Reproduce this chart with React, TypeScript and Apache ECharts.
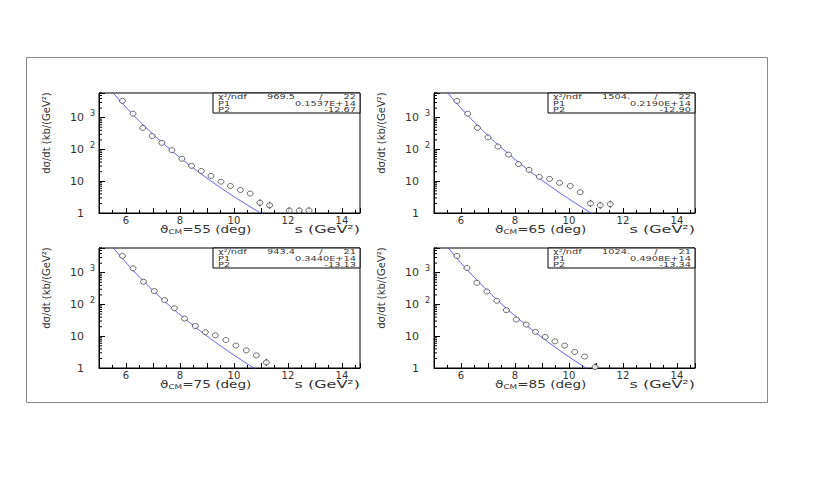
import React, { useEffect, useRef } from 'react';
import * as echarts from 'echarts';

// ---------- data ----------
const angles = [55, 65, 75, 85];

const s55 = [5.87, 6.26, 6.62, 6.97, 7.33, 7.70, 8.07, 8.43, 8.79, 9.15, 9.52, 9.87, 10.24, 10.60, 10.96, 11.32, 12.05, 12.42, 12.78];
const y55 = [3380, 1340, 480, 265, 162, 95, 51, 30.5, 21, 14.7, 9.7, 7.1, 5.3, 4.1, 2.1, 1.75, 1.2, 1.2, 1.2];
const s65 = [5.85, 6.25, 6.61, 7.00, 7.37, 7.76, 8.13, 8.52, 8.90, 9.28, 9.65, 10.05, 10.42, 10.80, 11.16, 11.53];
const y65 = [3380, 1340, 480, 240, 124, 69, 34.5, 22.8, 13.7, 11.8, 8.9, 7.1, 4.5, 2.0, 1.75, 1.9];
const s75 = [5.87, 6.26, 6.65, 7.05, 7.43, 7.79, 8.17, 8.57, 8.94, 9.31, 9.70, 10.07, 10.46, 10.83, 11.20];
const y75 = [3380, 1370, 520, 265, 137, 76, 36, 21, 13.4, 10.7, 7.6, 5.1, 3.6, 2.5, 1.5];
const s85 = [5.85, 6.22, 6.59, 6.96, 7.33, 7.68, 8.05, 8.42, 8.76, 9.12, 9.48, 9.84, 10.21, 10.58, 10.97];
const y85 = [3380, 1410, 480, 257, 131, 66, 33.6, 23.3, 13.7, 9.5, 6.9, 5.1, 3.2, 2.3, 1.07];

// error bars [s, low, high] where visible
const err55 = [[10.96, 1.6, 2.7], [11.32, 1.35, 2.25], [12.05, 1.0, 1.5], [12.42, 1.0, 1.5], [12.78, 1.0, 1.5]];
const err65 = [[10.80, 1.55, 2.6], [11.16, 1.35, 2.25], [11.53, 1.45, 2.45]];
const err75 = [[11.20, 1.15, 1.95]];
const err85 = [[10.97, 1.0, 1.4]];

// fit statistics boxes
const chi2Text = ['969.5', '1504.', '943.4', '1024.'];
const ndfText = ['22', '22', '21', '21'];
const p1Text = ['0.1537E+14', '0.2190E+14', '0.3440E+14', '0.4908E+14'];
const p2Text = ['-12.67', '-12.90', '-13.13', '-13.34'];

// axes
const xLabelTicks = [6, 8, 10, 12, 14];
const yDecades = [1, 10, 100, 1000];
const yBase = ['1', '10', '10', '10'];
const yExp = ['', '', '2', '3'];
const yMinorMult = [2, 3, 4, 5, 6, 7, 8, 9];
const X_MIN = 5;
const X_MAX = 14.67;
const Y_MIN = 1;
const Y_MAX = 6000;

const sList = [s55, s65, s75, s85];
const yList = [y55, y65, y75, y85];
const errList = [err55, err65, err75, err85];

// ---------- layout ----------
const GW = 261;
const GH = 120;
const gridPos = [
  { left: 99, top: 93 },
  { left: 434, top: 93 },
  { left: 99, top: 248 },
  { left: 434, top: 248 },
];
const FONT = 'DejaVu Sans';
const TXT = '#333';

export default function App() {
  const ref = useRef<HTMLDivElement>(null);

  useEffect(() => {
    if (!ref.current) return;
    const chart = echarts.init(ref.current, undefined, { renderer: 'svg' });

    const minorVals: number[] = [];
    yDecades.forEach((d) => yMinorMult.forEach((m) => { if (m * d <= Y_MAX) minorVals.push(m * d); }));

    const grid: any[] = [];
    const xAxis: any[] = [];
    const yAxis: any[] = [];
    const series: any[] = [];
    const graphic: any[] = [];

    graphic.push({
      type: 'rect', z: 0, silent: true,
      shape: { x: 26.5, y: 57.5, width: 741, height: 345 },
      style: { fill: 'none', stroke: '#888', lineWidth: 1 },
    });

    gridPos.forEach((g, i) => {
      grid.push({ left: g.left, top: g.top, width: GW, height: GH, show: true, borderColor: '#000', borderWidth: 1, backgroundColor: 'transparent' });
      xAxis.push({
        type: 'value', gridIndex: i, min: X_MIN, max: X_MAX, interval: 1,
        axisLine: { show: true, onZero: false, lineStyle: { color: '#000', width: 1 } },
        axisTick: { show: true, inside: true, length: 5, lineStyle: { color: '#000' } },
        minorTick: { show: true, splitNumber: 2, length: 3, lineStyle: { color: '#000' } },
        splitLine: { show: false },
        axisLabel: {
          show: true, margin: 2, color: TXT, fontFamily: FONT, fontSize: 10,
          formatter: (v: number) => (xLabelTicks.some((t) => Math.abs(t - v) < 1e-6) ? String(Math.round(v)) : ''),
        },
      });
      yAxis.push({
        type: 'log', logBase: 10, gridIndex: i, min: Y_MIN, max: Y_MAX,
        axisLine: { show: true, lineStyle: { color: '#000', width: 1 } },
        axisTick: { show: true, inside: true, length: 6, lineStyle: { color: '#000' } },
        splitLine: { show: false },
        axisLabel: {
          show: true, margin: 4, color: TXT, fontFamily: FONT, fontSize: 11,
          formatter: (v: number) => {
            const idx = yDecades.findIndex((d) => Math.abs(Math.log10(v) - Math.log10(d)) < 1e-6);
            if (idx < 0) return '';
            return `{b|${yBase[idx]}}{s|${yExp[idx]}}`;
          },
          rich: {
            b: { fontSize: 11, fontFamily: FONT, color: TXT },
            s: { fontSize: 8, fontFamily: FONT, color: TXT, width: 10, padding: [0, 0, 8, 1] },
          },
        },
      });

      const p1 = parseFloat(p1Text[i]);
      const p2 = parseFloat(p2Text[i]);
      const fit: number[][] = [];
      for (let k = 0; k <= 400; k++) {
        const s = X_MIN + (k * (X_MAX - X_MIN)) / 400;
        fit.push([s, p1 * Math.pow(s, p2)]);
      }
      series.push({
        type: 'line', xAxisIndex: i, yAxisIndex: i, data: fit, showSymbol: false, symbol: 'none',
        clip: true, lineStyle: { color: '#4848f0', width: 1 }, silent: true, z: 3,
      });
      series.push({
        type: 'custom', xAxisIndex: i, yAxisIndex: i, data: errList[i], encode: { x: 0, y: [1, 2] }, z: 4, silent: true,
        renderItem: (_p: any, api: any) => {
          const lo = api.coord([api.value(0), api.value(1)]);
          const hi = api.coord([api.value(0), api.value(2)]);
          return { type: 'line', shape: { x1: lo[0], y1: lo[1], x2: hi[0], y2: hi[1] }, style: { stroke: '#333', lineWidth: 1 } };
        },
      });
      series.push({
        type: 'scatter', xAxisIndex: i, yAxisIndex: i,
        data: sList[i].map((s, k) => [s, yList[i][k]]),
        symbol: 'circle', symbolSize: [6, 5], z: 5, silent: true,
        itemStyle: { color: '#fff', borderColor: '#333', borderWidth: 0.9 },
      });
      series.push({
        type: 'custom', xAxisIndex: i, yAxisIndex: i, data: minorVals.map((v) => [X_MIN, v]), encode: { x: 0, y: 1 }, silent: true, z: 6,
        renderItem: (_p: any, api: any) => {
          const pt = api.coord([api.value(0), api.value(1)]);
          return { type: 'line', shape: { x1: pt[0], y1: pt[1], x2: pt[0] + 3, y2: pt[1] }, style: { stroke: '#000', lineWidth: 1 } };
        },
      });

      // axis titles
      graphic.push({
        type: 'text', x: g.left - 53, y: g.top + 40, rotation: Math.PI / 2, silent: true,
        style: { text: 'dσ/dt (kb/(GeV²)', fontFamily: FONT, fontSize: 10, fill: TXT, align: 'center', verticalAlign: 'middle' },
      });
      graphic.push({
        type: 'text', x: g.left + 61, y: g.top + 137, scaleX: 1.36, silent: true,
        style: {
          text: `{t|ϑ}{sub|CM}{t|=${angles[i]} (deg)}`, align: 'left', verticalAlign: 'middle',
          rich: {
            t: { fontFamily: FONT, fontSize: 10, fill: TXT },
            sub: { fontFamily: FONT, fontSize: 6.5, fill: TXT, padding: [4, 0, 0, 0] },
          },
        },
      });
      graphic.push({
        type: 'text', x: g.left + GW, y: g.top + 137, scaleX: 1.6, silent: true,
        style: { text: 's (GeV²)', fontFamily: FONT, fontSize: 10, fill: TXT, align: 'right', verticalAlign: 'middle' },
      });

      // statistics box
      const bx = g.left + 114;
      const bw = GW - 114;
      const rowY = [3.8, 10.3, 16.6];
      const st = { fontFamily: FONT, fontSize: 7, fill: TXT, verticalAlign: 'middle' };
      const sc = 1.4;
      const sy = 0.9;
      graphic.push({
        type: 'group', x: bx, y: g.top, z: 50, silent: true,
        children: [
          { type: 'rect', shape: { x: 0, y: 0, width: bw, height: 20 }, style: { fill: '#fff', stroke: '#000', lineWidth: 1 } },
          { type: 'text', x: 5, y: rowY[0], scaleX: sc, scaleY: sy, style: { ...st, text: 'χ²/ndf', align: 'left' } },
          { type: 'text', x: 82, y: rowY[0], scaleX: sc, scaleY: sy, style: { ...st, text: chi2Text[i], align: 'right' } },
          { type: 'text', x: 108, y: rowY[0], scaleX: sc, scaleY: sy, style: { ...st, text: '/', align: 'center' } },
          { type: 'text', x: bw - 4, y: rowY[0], scaleX: sc, scaleY: sy, style: { ...st, text: ndfText[i], align: 'right' } },
          { type: 'text', x: 5, y: rowY[1], scaleX: sc, scaleY: sy, style: { ...st, text: 'P1', align: 'left' } },
          { type: 'text', x: bw - 4, y: rowY[1], scaleX: sc, scaleY: sy, style: { ...st, text: p1Text[i], align: 'right' } },
          { type: 'text', x: 5, y: rowY[2], scaleX: sc, scaleY: sy, style: { ...st, text: 'P2', align: 'left' } },
          { type: 'text', x: bw - 4, y: rowY[2], scaleX: sc, scaleY: sy, style: { ...st, text: p2Text[i], align: 'right' } },
        ],
      });
    });

    chart.setOption({
      animation: false,
      backgroundColor: '#fff',
      grid, xAxis, yAxis, series, graphic,
    });
    return () => chart.dispose();
  }, []);

  return <div ref={ref} style={{ position: 'absolute', left: 0, top: 0, width: 817, height: 491 }} />;
}
